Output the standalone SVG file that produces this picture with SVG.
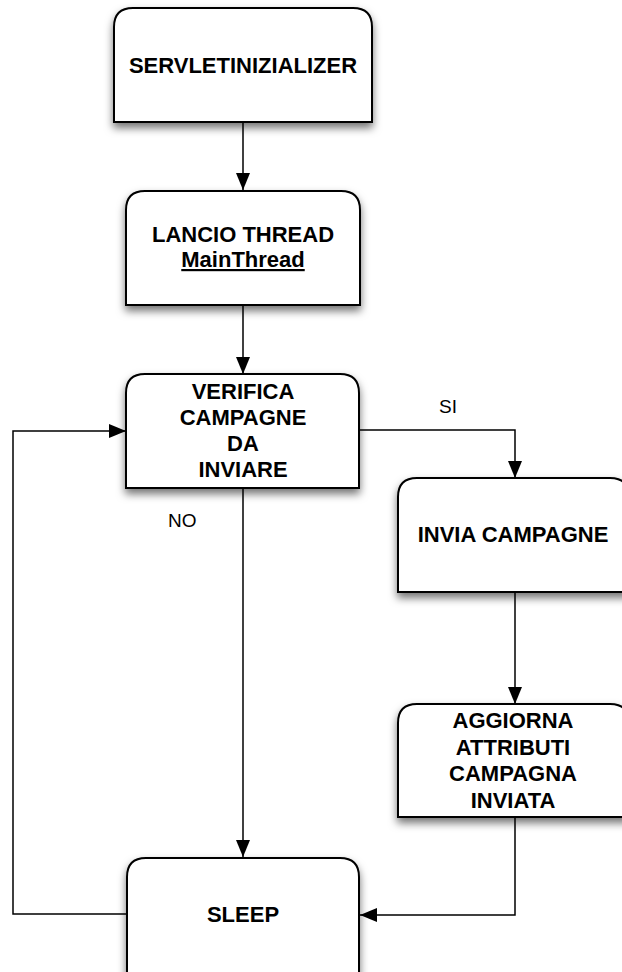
<svg xmlns="http://www.w3.org/2000/svg" width="622" height="972" viewBox="0 0 622 972">
  <style>
    .box { fill: #ffffff; stroke: #000000; stroke-width: 2; filter: url(#shadow); }
    .label { font-family: "Liberation Sans", Arial, Helvetica, sans-serif; font-size: 22px; font-weight: bold; fill: #000000; text-anchor: middle; }
    .edge-label { font-family: "Liberation Sans", Arial, Helvetica, sans-serif; font-size: 19px; fill: #000000; }
    .wire { fill: none; stroke: #000000; stroke-width: 1.5; }
    .arrowed { marker-end: url(#arrow); }
  </style>
  <defs>
    <filter id="shadow" x="-20%" y="-20%" width="140%" height="150%">
      <feDropShadow dx="0" dy="5" stdDeviation="4" flood-color="#000000" flood-opacity="0.55"/>
    </filter>
    <marker id="arrow" viewBox="0 0 17 14" refX="17" refY="7" markerWidth="17" markerHeight="14" markerUnits="userSpaceOnUse" orient="auto">
      <path d="M0,0 L17,7 L0,14 Z" fill="#000000"/>
    </marker>
  </defs>

  <rect width="622" height="972" fill="#ffffff"/>

  <!-- connectors -->
  <g id="connectors">
    <path class="wire arrowed" d="M243,122 V190"/>
    <path class="wire arrowed" d="M243,305 V374"/>
    <path class="wire arrowed" d="M359,430 H515 V478"/>
    <path class="wire arrowed" d="M515,592 V704"/>
    <path class="wire arrowed" d="M515,817 V915 H360"/>
    <path class="wire arrowed" d="M243,488 V857"/>
    <path class="wire arrowed" d="M127,914 H13 V431 H126"/>
    <text class="edge-label" x="439" y="413">SI</text>
    <text class="edge-label" x="168" y="527">NO</text>
  </g>

  <!-- nodes: rectangles with rounded top corners -->
  <g id="servletinizializer">
    <path class="box" d="M114,122 V27 Q114,8 133,8 H353 Q372,8 372,27 V122 Z"/>
    <text class="label" x="243" y="73">SERVLETINIZIALIZER</text>
  </g>

  <g id="lancio-thread">
    <path class="box" d="M126,305 V210 Q126,191 145,191 H341 Q360,191 360,210 V305 Z"/>
    <text class="label" x="243" y="242">LANCIO THREAD</text>
    <text class="label" x="243" y="267" text-decoration="underline">MainThread</text>
  </g>

  <g id="verifica-campagne">
    <path class="box" d="M126,488 V393 Q126,374 145,374 H340 Q359,374 359,393 V488 Z"/>
    <text class="label" x="243" y="399">VERIFICA</text>
    <text class="label" x="243" y="425">CAMPAGNE</text>
    <text class="label" x="243" y="451">DA</text>
    <text class="label" x="243" y="477">INVIARE</text>
  </g>

  <g id="invia-campagne">
    <path class="box" d="M398,592 V497 Q398,478 417,478 H610 Q629,478 629,497 V592 Z"/>
    <text class="label" x="513" y="542">INVIA CAMPAGNE</text>
  </g>

  <g id="aggiorna-attributi">
    <path class="box" d="M398,817 V723 Q398,704 417,704 H610 Q629,704 629,723 V817 Z"/>
    <text class="label" x="513" y="728">AGGIORNA</text>
    <text class="label" x="513" y="755">ATTRIBUTI</text>
    <text class="label" x="513" y="781">CAMPAGNA</text>
    <text class="label" x="513" y="808">INVIATA</text>
  </g>

  <g id="sleep">
    <path class="box" d="M127,990 V877 Q127,858 146,858 H340 Q359,858 359,877 V990 Z"/>
    <text class="label" x="243" y="922">SLEEP</text>
  </g>
</svg>
